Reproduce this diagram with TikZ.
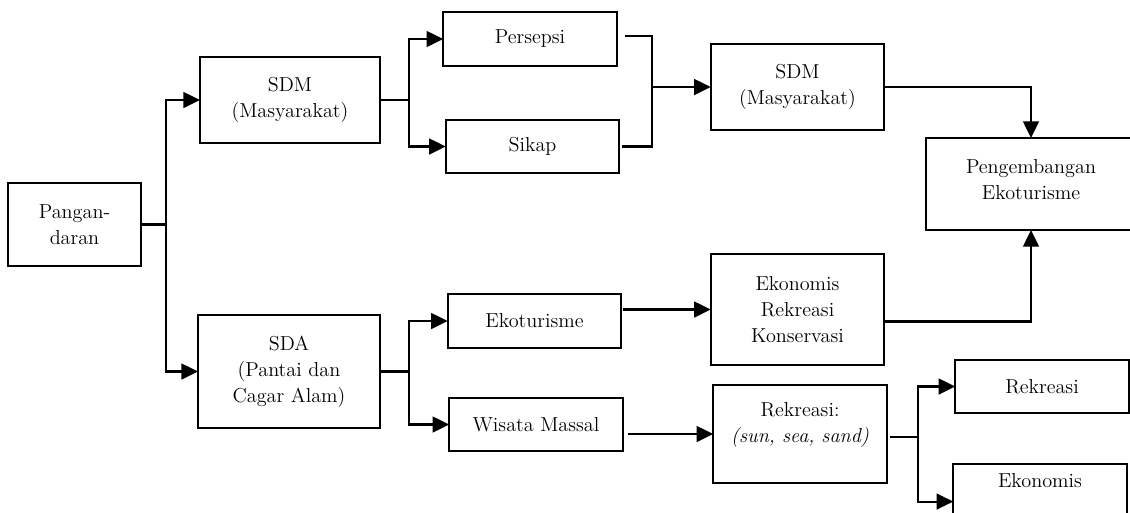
\documentclass[tikz,border=0pt]{standalone}
\usetikzlibrary{arrows.meta}
\begin{document}
\begin{tikzpicture}[x=0.02cm,y=-0.02cm,inner sep=0pt,outer sep=0pt,very thick,
>={Triangle[length=9.5pt,width=9pt]},
font=\fontsize{11.5}{14.7}\selectfont,
blok/.style={draw,rectangle,inner sep=2pt,align=center,very thick,minimum width=3.47cm,minimum height=1.07cm}]
\useasboundingbox (0,0) rectangle (1130,512);

\draw (74.5,224.5) node[blok,minimum width=2.66cm,minimum height=1.66cm] (pangan) {Pangan-\\daran};
\draw (290,100) node[blok,minimum width=3.6cm,minimum height=1.72cm] (sdm) {SDM\\(Masyarakat)};
\draw (289,371.5) node[blok,minimum width=3.64cm,minimum height=2.26cm] (sda) {SDA\\(Pantai dan\\Cagar Alam)};
\draw (530,39) node[blok] (persepsi) {Persepsi};
\draw (532.5,146.5) node[blok] (sikap) {Sikap};
\draw (797.5,87) node[blok,minimum height=1.72cm] (sdmb) {SDM\\(Masyarakat)};
\draw (1031,184) node[blok,minimum width=4.2cm,minimum height=1.84cm] (pengembangan) {Pengembangan\\Ekoturisme\\[-10pt]};
\draw (534.5,321) node[blok] (ekoturisme) {Ekoturisme};
\draw (536,424.5) node[blok] (wisata) {Wisata Massal};
\draw (797.5,309.5) node[blok,minimum height=2.22cm] (nilai) {Ekonomis\\Rekreasi\\Konservasi};
\draw (800,434) node[blok,minimum height=1.96cm] (rekss) {Rekreasi:\\\textit{(sun, sea, sand)}\\[-2pt]};
\draw (1042,386.5) node[blok] (rekreasi) {Rekreasi};
\draw (1040,491) node[blok] (ekonomis) {Ekonomis\\[-3pt]};

\draw (pangan.east) -- ++(25,0) coordinate (cabang1);
\draw[->] (cabang1) |- (sdm.west);
\draw[->] (cabang1) |- (sda.west);
\draw (sdm.east) -- ++(29,0) coordinate (cabang2);
\draw[->] (cabang2) |- (persepsi.west);
\draw[->] (cabang2) |- (sikap.west);
\draw (persepsi.east) ++(8,-3) -- ++(27,0) coordinate (gabung) -- (gabung |- sikap.east) -- ++(-30,0);
\draw[->] (gabung |- sdmb.west) -- (sdmb.west);
\draw[->] (sdmb.east) -| (pengembangan.north);
\draw[->] (nilai.east) ++(0,12) -| (pengembangan.south);
\draw (sda.east) -- ++(29,0) coordinate (cabang3);
\draw[->] (cabang3) |- (ekoturisme.west);
\draw[->] (cabang3) |- (wisata.west);
\draw[->] (ekoturisme.east |- nilai.west) ++(2,0) -- (nilai.west);
\draw[->] (wisata.east |- rekss.west) ++(5,0) -- (rekss.west);
\draw (rekss.east) ++(3,3) -- ++(28,0) coordinate (cabang4);
\draw[->] (cabang4) |- (rekreasi.west);
\draw[->] (cabang4) |- ([yshift=-6]ekonomis.west);
\end{tikzpicture}
\end{document}
